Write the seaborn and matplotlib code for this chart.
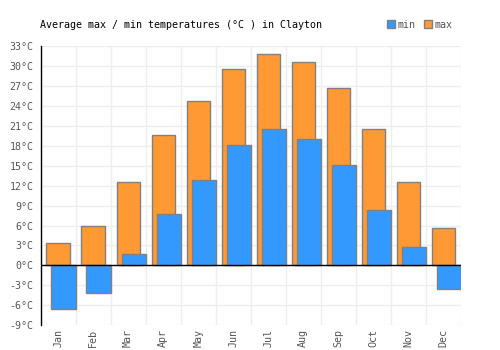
import matplotlib
matplotlib.use("Agg")
import matplotlib.pyplot as plt
import seaborn as sns
import pandas as pd
from matplotlib.patches import Patch

months = ["Jan", "Feb", "Mar", "Apr", "May", "Jun", "Jul", "Aug", "Sep", "Oct", "Nov", "Dec"]
max_temps = [3.3, 6.0, 12.6, 19.6, 24.7, 29.5, 31.8, 30.6, 26.7, 20.6, 12.6, 5.6]
min_temps = [-6.5, -4.1, 1.7, 7.7, 12.8, 18.1, 20.5, 19.0, 15.1, 8.4, 2.7, -3.5]
yticks = list(range(-9, 34, 3))

df = pd.DataFrame({"month": months, "max": max_temps, "min": min_temps})

sns.set_theme(style="white")
plt.rcParams["font.family"] = ["DejaVu Sans Mono"]

fig = plt.figure(figsize=(5, 3.5), dpi=100)
ax = fig.add_axes([0.081, 0.071, 0.841, 0.797])

blue = "#3399ff"
orange = "#ff9933"
edge = "#808080"
fs = 7.2

sns.barplot(data=df, x="month", y="max", color=orange, width=0.66,
            edgecolor=edge, linewidth=1, saturation=1, ax=ax, zorder=2)
n_before = len(ax.patches)
sns.barplot(data=df, x="month", y="min", color=blue, width=0.69,
            edgecolor=edge, linewidth=1, saturation=1, ax=ax, zorder=3)
for p in ax.patches[n_before:]:
    p.set_x(p.get_x() + 0.157)

ax.set_xlim(-0.5, 11.5)
ax.set_ylim(-9, 33)
ax.set_yticks(yticks)
ax.set_yticklabels([f"{t}°C" for t in yticks])
ax.set_xticks(range(12))
ax.set_xticklabels(months, rotation=90)
ax.set_xlabel("")
ax.set_ylabel("")

# grid
for v in yticks:
    ax.axhline(v, color="#eeeeee", linewidth=1, zorder=0)
for i in range(13):
    ax.axvline(i - 0.5, color="#eeeeee", linewidth=1, zorder=0)
ax.axhline(0, color="black", linewidth=1, zorder=4)

for s in ["top", "right", "bottom"]:
    ax.spines[s].set_visible(False)
ax.spines["left"].set_color("black")
ax.spines["left"].set_linewidth(1)
ax.spines["left"].set_zorder(5)

ax.tick_params(axis="y", length=0, labelsize=fs, colors="#555555", pad=5)
ax.tick_params(axis="x", length=0, labelsize=fs, colors="#555555", pad=3)

fig.text(0.08, 0.93, "Average max / min temperatures (°C ) in Clayton", fontsize=fs,
         color="black", ha="left", va="center")

handles = [Patch(facecolor=blue, edgecolor=edge, label="min"),
           Patch(facecolor=orange, edgecolor=edge, label="max")]
fig.legend(handles=handles, loc="center right", bbox_to_anchor=(0.905, 0.93), ncol=2,
           frameon=False, fontsize=fs, handlelength=0.8, handleheight=0.8,
           handletextpad=0.3, columnspacing=0.8, labelcolor="#555555",
           borderaxespad=0, borderpad=0)

fig.savefig("out.png", dpi=100)
